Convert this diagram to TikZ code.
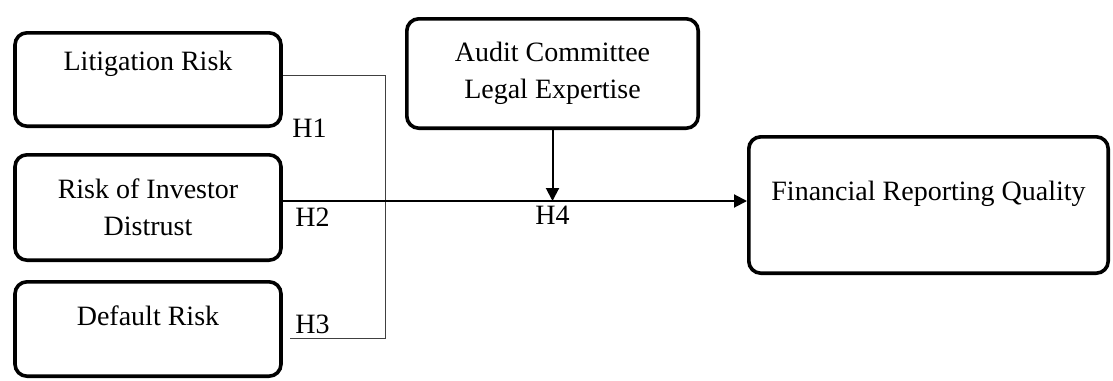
\documentclass[tikz,border=0pt]{standalone}
\usepackage{fontspec}
\setmainfont{Liberation Serif}
\usepackage{tikz}
\usetikzlibrary{arrows.meta,positioning}

\tikzset{
  varbox/.style={draw, line width=1.8pt, rounded corners=6pt, align=center,
    font=\fontsize{14}{18.5}\selectfont, inner sep=2pt},
  hyplabel/.style={font=\fontsize{14}{16}\selectfont, inner sep=0pt},
  thinlink/.style={draw=black!75, line width=0.5pt},
  mainlink/.style={line width=1pt, -{Triangle[length=6.5pt,width=6.5pt]}}
}

\begin{document}
\begin{tikzpicture}[x=0.5pt, y=-0.5pt]
        \useasboundingbox (0,0) rectangle (1113,380);

        % Independent variables
        \node[varbox, minimum width=133pt, minimum height=46.7pt, text height=10pt, text depth=19.5pt] (litig) at (148,79.5) {Litigation Risk};
        \node[varbox, minimum width=133pt, minimum height=52.7pt] (distrust) at (148,207.5) {Risk of Investor\\Distrust};
        \node[varbox, minimum width=133pt, minimum height=47.2pt, text height=10pt, text depth=14pt] (default) at (148,329) {Default Risk};

        % Moderator and dependent variable
        \node[varbox, minimum width=145.7pt, minimum height=54.7pt] (audit) at (552.5,73.5) {Audit Committee\\Legal Expertise};
        \node[varbox, minimum width=179.7pt, minimum height=68.2pt, text height=10pt, text depth=15pt] (frq) at (928.5,205) {Financial Reporting Quality};

        % Junction points
        \coordinate (jtop) at (385,75);
        \coordinate (jbot) at (385,338);
        \coordinate (hline) at (0,201);

        % Links
        \draw[thinlink] (litig.east |- jtop) -- (jtop) -- (jbot) -- ([xshift=3.5pt]default.east |- jbot);
        \draw[mainlink] (distrust.east |- hline) -- (frq.west |- hline);
        \draw[mainlink] (audit.south) -- (audit.south |- hline);

        % Hypotheses
        \node[hyplabel, anchor=west] (h1) at (292,128) {H1};
        \node[hyplabel, anchor=west] (h2) at (295,217) {H2};
        \node[hyplabel, anchor=west] (h3) at (295,324) {H3};
        \node[hyplabel] (h4) at (audit.south |- 0,215) {H4};
    \end{tikzpicture}
\end{document}
